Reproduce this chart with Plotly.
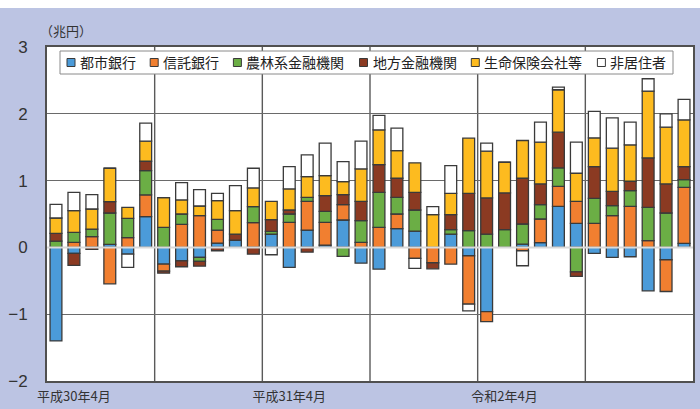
import plotly.graph_objects as go

# Months: April 2018 (平成30年4月) through March 2021
months = [f"{2018 + (3 + i) // 12}-{(3 + i) % 12 + 1:02d}" for i in range(36)]
tick_months = ["2018-05", "2019-05", "2020-05"]
tick_labels = ["平成30年4月", "平成31年4月", "令和2年4月"]

# Net flows by investor type (兆円)
toshi = [-1.40, -0.09, 0.0, 0.045, -0.10, 0.46, -0.25, -0.20, -0.15, 0.065, 0.11, 0.0,
         0.20, -0.30, 0.26, 0.035, 0.41, -0.235, -0.325, 0.28, 0.245, 0.0, 0.20, -0.125,
         -0.96, 0.0, 0.05, 0.07, 0.615, 0.36, -0.09, -0.15, -0.14, -0.65, -0.185, 0.06]
shintaku = [0.0, 0.075, 0.16, -0.545, 0.145, 0.325, -0.105, 0.345, 0.475, 0.195, 0.0, 0.37,
            0.0, 0.375, 0.43, 0.34, 0.23, 0.075, 0.30, 0.22, -0.165, -0.23, -0.25, -0.725,
            -0.15, 0.0, -0.05, 0.355, 0.30, 0.33, 0.36, 0.475, 0.615, 0.10, -0.475, 0.84]
norin = [0.095, 0.15, 0.115, 0.47, 0.29, 0.365, 0.30, 0.155, -0.06, 0.16, 0.0, 0.24,
         0.04, 0.125, 0.06, 0.165, -0.135, 0.325, 0.525, 0.25, 0.315, 0.0, 0.065, 0.25,
         0.20, 0.265, 0.30, 0.215, 0.275, -0.365, 0.375, 0.15, 0.235, 0.50, 0.515, 0.115]
chiho = [0.115, -0.18, -0.03, 0.17, 0.0, 0.14, -0.03, -0.09, -0.07, -0.05, 0.09, -0.10,
         0.175, 0.06, -0.07, 0.235, 0.15, 0.29, 0.415, 0.285, 0.265, -0.09, 0.225, 0.56,
         0.54, 0.55, 0.685, 0.31, 0.535, -0.07, 0.475, 0.215, 0.14, 0.74, 0.435, 0.195]
seimei = [0.23, 0.325, 0.30, 0.50, 0.165, 0.30, 0.445, 0.21, 0.145, 0.28, 0.35, 0.28,
          0.275, 0.315, 0.31, 0.30, 0.195, 0.485, 0.52, 0.415, 0.44, 0.49, 0.32, 0.825,
          0.70, 0.46, 0.565, 0.625, 0.635, 0.42, 0.43, 0.645, 0.545, 1.00, 0.85, 0.70]
hikyoju = [0.205, 0.275, 0.215, 0.0, -0.20, 0.27, 0.0, 0.26, 0.245, 0.11, 0.375, 0.295,
           -0.11, 0.335, 0.325, 0.485, 0.30, 0.415, 0.215, 0.335, -0.15, 0.12, 0.415, -0.10,
           0.12, 0.0, -0.225, 0.30, 0.04, 0.465, 0.395, 0.455, 0.34, 0.185, 0.20, 0.305]

series_names = ["都市銀行", "信託銀行", "農林系金融機関", "地方金融機関", "生命保険会社等", "非居住者"]
series_values = [toshi, shintaku, norin, chiho, seimei, hikyoju]
series_colors = ["#4B9BD9", "#F17F30", "#6BAE45", "#8B3A22", "#FDBB1F", "#FFFFFF"]

W, H = 700, 409
ML, MR, MT, MB = 47, 7, 47, 28
PW, PH = W - ML - MR, H - MT - MB
BG = "#BCC4E3"
CJK = "Noto Sans CJK JP"


def px_x(x):
    return (x - ML) / PW


def px_y(y):
    return (H - MB - y) / PH


fig = go.Figure()
for name, vals, col in zip(series_names, series_values, series_colors):
    fig.add_trace(go.Bar(
        x=months, y=vals, name=name,
        marker=dict(color=col, line=dict(color="#3a3a3a", width=1.3)),
        showlegend=False,
    ))

shapes = []
# half-year separators
for i in range(6, len(months), 6):
    shapes.append(dict(type="line", xref="x", yref="paper", x0=i - 0.5, x1=i - 0.5,
                       y0=0, y1=1, line=dict(color="#5a5a5a", width=1.4), layer="below"))
# light zero line over the bars
shapes.append(dict(type="line", xref="paper", yref="y", x0=0, x1=1, y0=0, y1=0,
                   line=dict(color="#D9D9D9", width=2), layer="above"))
# white strip along the top edge
shapes.append(dict(type="rect", xref="paper", yref="paper", x0=px_x(0), x1=px_x(W),
                   y0=px_y(8), y1=px_y(0), fillcolor="#FFFFFF", line=dict(width=0),
                   layer="below"))

annotations = []
# legend box drawn by hand
shapes.append(dict(type="rect", xref="paper", yref="paper", x0=px_x(60), x1=px_x(673),
                   y0=px_y(74), y1=px_y(51), fillcolor="#FFFFFF",
                   line=dict(color="#8a8a8a", width=1), layer="above"))
fs = 14
cx = 67.0
ymid = 62.5
for name, col in zip(series_names, series_colors):
    shapes.append(dict(type="rect", xref="paper", yref="paper",
                       x0=px_x(cx), x1=px_x(cx + 8), y0=px_y(ymid + 4), y1=px_y(ymid - 4),
                       fillcolor=col, line=dict(color="#3a3a3a", width=1), layer="above"))
    annotations.append(dict(x=px_x(cx + 11), y=px_y(ymid), xref="paper", yref="paper",
                            text=name, showarrow=False, xanchor="left", yanchor="middle",
                            font=dict(family=CJK, size=fs, color="#222222")))
    cx += 11 + len(name) * 14.3 + 15

# unit label
annotations.append(dict(x=px_x(38), y=px_y(30), xref="paper", yref="paper",
                        text="（兆円）", showarrow=False, xanchor="left", yanchor="middle",
                        font=dict(family=CJK, size=13, color="#333333")))

fig.update_layout(
    width=W, height=H,
    margin=dict(l=ML, r=MR, t=MT, b=MB),
    barmode="relative",
    bargap=0.34,
    paper_bgcolor=BG,
    plot_bgcolor="#FFFFFF",
    shapes=shapes,
    annotations=annotations,
    xaxis=dict(
        type="category", range=[-0.5, len(months) - 0.5],
        tickvals=tick_months, ticktext=tick_labels,
        tickfont=dict(family=CJK, size=13, color="#333333"),
        showgrid=False, ticks="", ticklabelstandoff=2, automargin=False,
        showline=True, mirror=True, linecolor="#505050", linewidth=2,
    ),
    yaxis=dict(
        range=[-2, 3], dtick=1, tick0=0,
        tickfont=dict(family="Liberation Sans", size=17, color="#333333"),
        showgrid=True, gridcolor="#6a6a6a", gridwidth=1.3,
        zeroline=False, ticks="", ticklabelstandoff=14, automargin=False,
        showline=True, mirror=True, linecolor="#505050", linewidth=2,
    ),
)

fig.write_html("out.html")
